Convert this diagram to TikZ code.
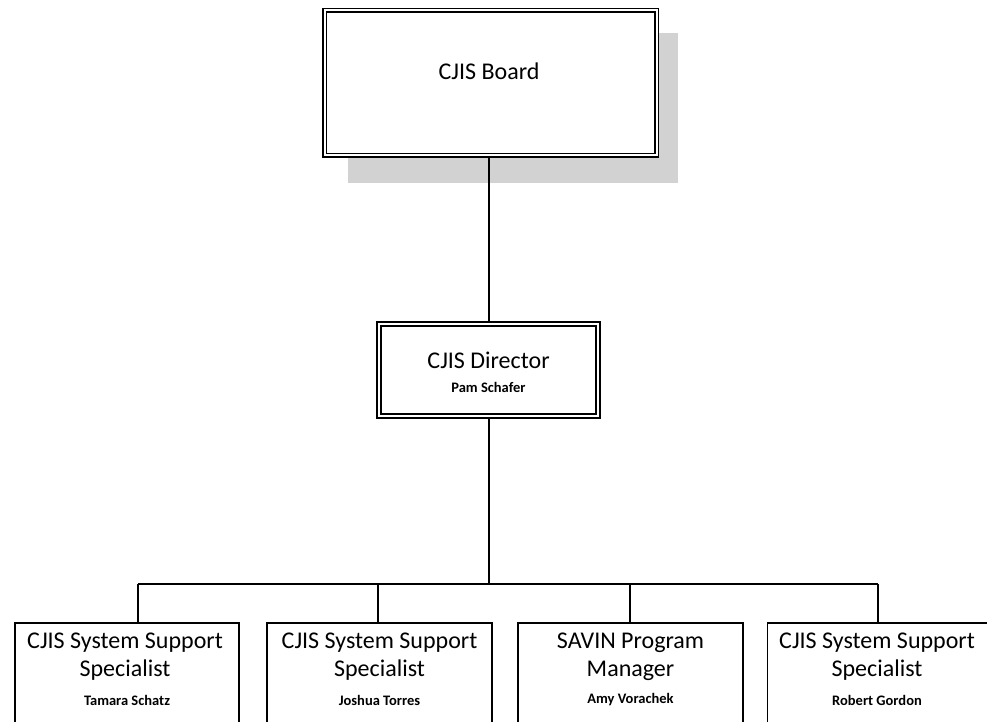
\documentclass[tikz,border=0pt]{standalone}
\usepackage{fontspec}
\setmainfont{Carlito}
\usetikzlibrary{positioning}

\begin{document}
\begin{tikzpicture}[x=1pt,y=-1pt,
  boardbox/.style={draw,fill=white,double,line width=1.8pt,double distance=2pt,minimum width=332pt,minimum height=145pt,inner sep=0pt},
  dirbox/.style={draw,fill=white,double,line width=1.6pt,double distance=2pt,minimum width=219pt,minimum height=92pt,inner sep=0pt},
  staffbox/.style={draw,line width=1.8pt,anchor=north,minimum height=140pt,inner sep=0pt},
  title/.style={font=\fontsize{24}{28}\selectfont,align=center,inner sep=0pt},
  who/.style={font=\bfseries\fontsize{14.5}{17}\selectfont,inner sep=0pt},
  link/.style={line width=2pt}]
\useasboundingbox (0,0) rectangle (987,722);
\clip (0,0) rectangle (987,722);
% board with its shadow
\fill[gray!35] (348,33) rectangle (678,183);
\node[boardbox] (board) at (490.5,83) {};
\node[title] (boardtxt) at (489,71) {CJIS Board};
% director
\node[dirbox] (dir) at (488.5,370) {};
\node[title] (dirtxt) at (488.5,360) {CJIS Director};
\node[who] (dirname) at (488.5,387) {Pam Schafer};
% staff boxes
\node[staffbox,minimum width=224pt] (s1) at (127,622) {};
\node[staffbox,minimum width=225pt] (s2) at (379.5,622) {};
\node[staffbox,minimum width=225pt] (s3) at (630.5,622) {};
\node[staffbox,minimum width=225pt] (s4) at (880,622) {};
\node[title] (s1txt) at (125,657) {CJIS System Support\\Specialist};
\node[title] (s2txt) at (379.5,657) {CJIS System Support\\Specialist};
\node[title] (s3txt) at (630.5,657) {SAVIN Program\\Manager};
\node[title] (s4txt) at (877,657) {CJIS System Support\\Specialist};
\node[who] (s1name) at (127,700) {Tamara Schatz};
\node[who] (s2name) at (379.5,700) {Joshua Torres};
\node[who] (s3name) at (630.5,700) {Amy Vorachek};
\node[who] (s4name) at (877,700) {Robert Gordon};
% connectors
\coordinate (b1) at (138,584);
\coordinate (b2) at (378,584);
\coordinate (b3) at (630,584);
\coordinate (b4) at (878,584);
\draw[link] (dir.north |- board.south) -- (dir.north);
\draw[link] (dir.south) -- (dir.south |- b1);
\draw[link] (b1) -- (b4);
\draw[link] (b1) -- (b1 |- s1.north);
\draw[link] (b2) -- (b2 |- s2.north);
\draw[link] (b3) -- (b3 |- s3.north);
\draw[link] (b4) -- (b4 |- s4.north);
\end{tikzpicture}
\end{document}
